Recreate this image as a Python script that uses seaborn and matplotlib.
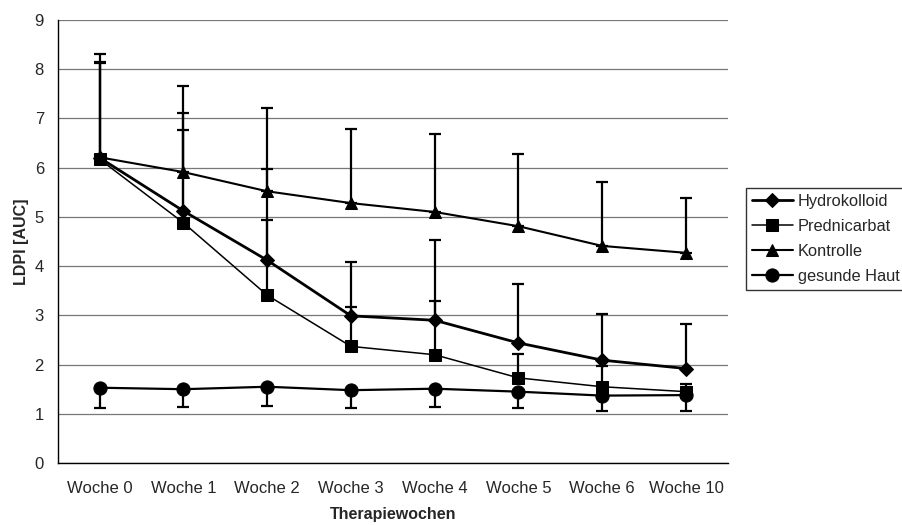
import matplotlib
matplotlib.use("Agg")
import matplotlib.pyplot as plt
import seaborn as sns
import pandas as pd
import numpy as np

weeks = ["Woche 0", "Woche 1", "Woche 2", "Woche 3", "Woche 4", "Woche 5", "Woche 6", "Woche 10"]
series_names = ["Hydrokolloid", "Prednicarbat", "Kontrolle", "gesunde Haut"]

hydro = [6.2, 5.12, 4.12, 2.99, 2.9, 2.44, 2.09, 1.92]
hydro_up = [8.14, 7.11, 5.97, 4.08, 4.54, 3.63, 3.02, 2.83]
pred = [6.17, 4.88, 3.41, 2.37, 2.2, 1.73, 1.55, 1.45]
pred_up = [8.12, 6.77, 4.93, 3.17, 3.29, 2.21, 1.97, 1.6]
kontrolle = [6.21, 5.91, 5.52, 5.28, 5.1, 4.81, 4.41, 4.27]
kontrolle_up = [8.31, 7.65, 7.21, 6.79, 6.69, 6.27, 5.71, 5.38]
haut = [1.53, 1.5, 1.55, 1.48, 1.51, 1.45, 1.37, 1.38]
haut_low = [1.12, 1.14, 1.15, 1.12, 1.14, 1.11, 1.06, 1.05]

sns.set_theme(style="white")
plt.rcParams["font.family"] = ["Liberation Sans", "DejaVu Sans"]

fig = plt.figure(figsize=(9.03, 5.25), dpi=100)
ax = fig.add_axes([0.064, 0.118, 0.742, 0.844])

vals = {"Hydrokolloid": hydro, "Prednicarbat": pred, "Kontrolle": kontrolle, "gesunde Haut": haut}
rows = []
for s in series_names:
    for i, w in enumerate(weeks):
        rows.append({"x": i, "week": w, "serie": s, "val": vals[s][i]})
df = pd.DataFrame(rows)

markers = {"Hydrokolloid": "D", "Prednicarbat": "s", "Kontrolle": "^", "gesunde Haut": "o"}
msizes = {"Hydrokolloid": 7.5, "Prednicarbat": 8.5, "Kontrolle": 9, "gesunde Haut": 9.5}
lws = {"Hydrokolloid": 2.0, "Prednicarbat": 1.1, "Kontrolle": 1.5, "gesunde Haut": 1.6}

x = np.arange(len(weeks))
up_err = {"Hydrokolloid": hydro_up, "Prednicarbat": pred_up, "Kontrolle": kontrolle_up}
for s, up in up_err.items():
    v = np.array(vals[s]); u = np.array(up)
    ax.errorbar(x, v, yerr=[np.zeros_like(v), u - v], fmt="none", ecolor="black",
                elinewidth=1.6, capsize=4.5, capthick=1.6, zorder=2)
v = np.array(haut); l = np.array(haut_low)
ax.errorbar(x, v, yerr=[v - l, np.zeros_like(v)], fmt="none", ecolor="black",
            elinewidth=1.6, capsize=4.5, capthick=1.6, zorder=2)

for s in series_names:
    sub = df[df.serie == s]
    sns.lineplot(data=sub, x="x", y="val", ax=ax, color="black", marker=markers[s],
                 markersize=msizes[s], linewidth=lws[s], markeredgecolor="black",
                 label=s, zorder=3)

ax.set_xlim(-0.5, len(weeks) - 0.5)
ax.set_ylim(0, 9)
ax.set_yticks(range(0, 10))
ax.set_xticks(x)
ax.set_xticklabels(weeks, fontsize=12)
ax.set_xticks(np.arange(-0.5, len(weeks)), minor=True)
ax.tick_params(axis="x", which="major", length=0, pad=13)
ax.tick_params(axis="x", which="minor", length=4, width=1, color="black", direction="out")
ax.tick_params(axis="y", which="major", length=4, width=1, color="black", direction="out",
               labelsize=12, pad=6)
ax.yaxis.grid(True, color="#777777", linewidth=0.9)
ax.xaxis.grid(False)
for sp in ["top", "right"]:
    ax.spines[sp].set_visible(False)
for sp in ["left", "bottom"]:
    ax.spines[sp].set_color("black")
    ax.spines[sp].set_linewidth(1.0)
ax.set_xlabel("Therapiewochen", fontsize=11.5, fontweight="bold", labelpad=8)
ax.set_ylabel("LDPI [AUC]", fontsize=11.5, fontweight="bold", labelpad=4)

leg = ax.legend(loc="upper left", bbox_to_anchor=(746 / 903, 1 - 188 / 525),
                bbox_transform=fig.transFigure, frameon=True, fontsize=11.8,
                handlelength=2.5, handletextpad=0.3, borderpad=0.35, labelspacing=0.62,
                borderaxespad=0, fancybox=False)
leg.get_frame().set_edgecolor("black")
leg.get_frame().set_linewidth(1.0)

fig.savefig("out.png", dpi=100, facecolor="white")
